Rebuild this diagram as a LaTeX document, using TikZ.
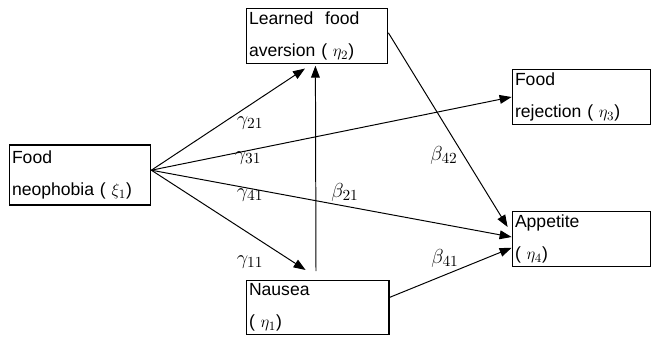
\documentclass[tikz,border=0pt]{standalone}
\usepackage{amsmath, amssymb}
\usepackage{fontspec}
\usepackage{tikz}
\usetikzlibrary{arrows.meta, positioning}
\newfontfamily\boxfont{Liberation Sans}

\tikzset{
    factor/.style={draw, line width=0.8pt, rectangle, align=left, inner sep=2pt,
        anchor=center, font=\boxfont\fontsize{12.5}{23}\selectfont},
    path/.style={line width=0.7pt, -{Triangle[length=3mm,width=2.2mm]}},
    coef/.style={font=\fontsize{15}{17}\selectfont}
}

\begin{document}
\begin{tikzpicture}
    \useasboundingbox (0,0) rectangle (16.275,8.475);

    % Latent variables
    \node[factor, text width=3.4cm, minimum height=1.5cm] (neo) at (2.0,4.1)
        {Food\\neophobia ( $\xi_1$)};
    \node[factor, text width=3.4cm, minimum height=1.3cm] (lfa) at (7.925,7.575)
        {Learned\ \ food\\aversion ( $\eta_2$)};
    \node[factor, text width=3.33cm, minimum height=1.15cm] (rej) at (14.54,6.05)
        {Food\\rejection ( $\eta_3$)};
    \node[factor, text width=3.33cm, minimum height=1.3cm] (app) at (14.54,2.5)
        {Appetite\\( $\eta_4$)};
    \node[factor, text width=3.43cm, minimum height=1.28cm] (nau) at (7.94,0.79)
        {Nausea\\( $\eta_1$)};

    % Paths from food neophobia
    \coordinate (src) at ([yshift=0.12cm]neo.east);
    \draw[path] (src) -- ([xshift=-0.3cm,yshift=-0.12cm]lfa.south);
    \draw[path] (src) -- (rej.west);
    \draw[path] (src) -- ([yshift=0.05cm]app.west);
    \draw[path] (src) -- ([xshift=-0.3cm,yshift=0.25cm]nau.north);

    % Paths between endogenous variables
    \draw[path] ([xshift=-0.04cm,yshift=0.22cm]nau.north) -- ([xshift=-0.04cm,yshift=-0.05cm]lfa.south);
    \draw[path] ([yshift=0.08cm]lfa.east) -- ([xshift=-0.1cm,yshift=0.3cm]app.west);
    \draw[path] ([yshift=0.25cm]nau.east) -- ([yshift=-0.22cm]app.west);

    % Coefficients
    \node[coef] (g21) at (6.25,5.4) {$\gamma_{21}$};
    \node[coef] (g31) at (6.2,4.525) {$\gamma_{31}$};
    \node[coef] (g41) at (6.25,3.6) {$\gamma_{41}$};
    \node[coef] (g11) at (6.25,1.925) {$\gamma_{11}$};
    \node[coef] (b21) at (8.625,3.675) {$\beta_{21}$};
    \node[coef] (b42) at (11.1,4.6) {$\beta_{42}$};
    \node[coef] (b41) at (11.125,2.025) {$\beta_{41}$};
\end{tikzpicture}
\end{document}
